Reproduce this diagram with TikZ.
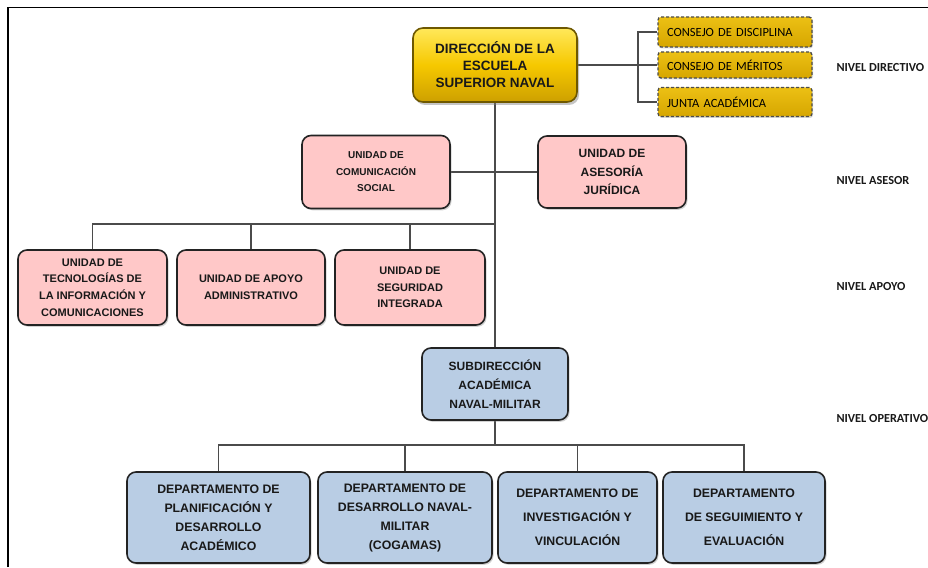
\documentclass[tikz,border=0pt]{standalone}
\usepackage{fontspec}
\setmainfont{Liberation Sans}
\newfontfamily\calfont{Carlito}
\usetikzlibrary{shadows,backgrounds}
\definecolor{pinkf}{RGB}{255,200,200}
\definecolor{bluef}{RGB}{185,205,228}
\definecolor{edgec}{RGB}{35,35,35}
\definecolor{connc}{RGB}{75,75,75}
\definecolor{goldA}{RGB}{255,232,90}
\definecolor{goldB}{RGB}{246,200,0}
\definecolor{goldC}{RGB}{205,160,0}
\definecolor{goldD}{RGB}{236,192,20}
\definecolor{goldE}{RGB}{214,166,0}
\definecolor{txt}{RGB}{25,25,25}
\tikzset{
  box/.style={draw=edgec, line width=1.6pt, rounded corners=9pt, align=center, text=txt,
    inner sep=2pt, drop shadow={shadow xshift=1.5pt, shadow yshift=-1.8pt, opacity=0.35}},
  pinkbox/.style={box, fill=pinkf},
  bluebox/.style={box, fill=bluef},
  dirbox/.style={draw={rgb,255:red,110;green,88;blue,0}, line width=1.6pt, rounded corners=10pt,
    top color=goldA, bottom color=goldC, middle color=goldB, align=center, text=txt,
    drop shadow={shadow xshift=2pt, shadow yshift=-3pt, opacity=0.45},
    minimum width=164pt, minimum height=74pt,
    font={\bfseries\fontsize{13.5}{17}\selectfont}},
  goldbox/.style={draw=black!70, dashed, dash pattern=on 3pt off 2pt, line width=1.3pt,
    rounded corners=3pt, top color=goldD, bottom color=goldE, text=black,
    minimum width=154pt, minimum height=28pt, text width=136pt, align=left,
    inner xsep=9pt, font={\calfont\fontsize{12.5}{14}\selectfont},
    drop shadow={shadow xshift=1pt, shadow yshift=-1.5pt, opacity=0.3}},
  cline/.style={draw=connc, line width=1.1pt},
  lvl/.style={anchor=west, text=txt, font={\calfont\bfseries\fontsize{12.3}{14}\selectfont}},
}
\begin{document}
\begin{tikzpicture}[x=1pt,y=-1pt]
\useasboundingbox (0,0) rectangle (928,567);

% directive level
\node[dirbox] (dir) at (495,65) {DIRECCIÓN DE LA\\ESCUELA\\SUPERIOR NAVAL};
\node[goldbox, minimum height=30pt] (cd) at (735,32) {CONSEJO DE DISCIPLINA};
\node[goldbox, minimum height=26pt] (cm) at (735,65) {CONSEJO DE MÉRITOS};
\node[goldbox, minimum height=29pt] (ja) at (735,102) {JUNTA ACADÉMICA};
\coordinate (br) at (638,65);

% advisory level
\node[pinkbox, minimum width=148pt, minimum height=73pt,
  font={\bfseries\fontsize{10}{16.5}\selectfont}] (com) at (376,172)
  {UNIDAD DE\\COMUNICACIÓN\\SOCIAL};
\node[pinkbox, minimum width=148pt, minimum height=72pt,
  font={\bfseries\fontsize{12}{18.5}\selectfont}] (jur) at (612,172)
  {UNIDAD DE\\ASESORÍA\\JURÍDICA};

% support level
\node[pinkbox, minimum width=149pt, minimum height=75pt,
  font={\bfseries\fontsize{11}{16.7}\selectfont}] (tic) at (92.5,287.5)
  {UNIDAD DE\\TECNOLOGÍAS DE\\LA INFORMACIÓN Y\\COMUNICACIONES};
\node[pinkbox, minimum width=148pt, minimum height=75pt,
  font={\bfseries\fontsize{11}{17}\selectfont}] (adm) at (251,287.5)
  {UNIDAD DE APOYO\\ADMINISTRATIVO};
\node[pinkbox, minimum width=150pt, minimum height=75pt,
  font={\bfseries\fontsize{11}{16.5}\selectfont}] (seg) at (410,287.5)
  {UNIDAD DE\\SEGURIDAD\\INTEGRADA};

% operative level
\node[bluebox, minimum width=146pt, minimum height=72pt,
  font={\bfseries\fontsize{12}{19}\selectfont}] (sub) at (495,384)
  {SUBDIRECCIÓN\\ACADÉMICA\\NAVAL-MILITAR};
\node[bluebox, minimum width=183pt, minimum height=91pt,
  font={\bfseries\fontsize{12.3}{19}\selectfont}] (d1) at (218.5,517.5)
  {DEPARTAMENTO DE\\PLANIFICACIÓN Y\\DESARROLLO\\ACADÉMICO};
\node[bluebox, minimum width=174pt, minimum height=91pt,
  font={\bfseries\fontsize{12.3}{19}\selectfont}] (d2) at (405,517.5)
  {DEPARTAMENTO DE\\DESARROLLO NAVAL-\\MILITAR\\(COGAMAS)};
\node[bluebox, minimum width=159pt, minimum height=91pt,
  font={\bfseries\fontsize{12.3}{24}\selectfont}] (d3) at (577.5,517.5)
  {DEPARTAMENTO DE\\INVESTIGACIÓN Y\\VINCULACIÓN};
\node[bluebox, minimum width=162pt, minimum height=91pt,
  font={\bfseries\fontsize{12.3}{24}\selectfont}] (d4) at (744,517.5)
  {DEPARTAMENTO\\DE SEGUIMIENTO Y\\EVALUACIÓN};

% level labels
\node[lvl] (l1) at (833,68) {NIVEL DIRECTIVO};
\node[lvl] (l2) at (833,181) {NIVEL ASESOR};
\node[lvl] (l3) at (833,287) {NIVEL APOYO};
\node[lvl] (l4) at (833,419) {NIVEL OPERATIVO};

\coordinate (ap) at (495,224);
\coordinate (op) at (495,445);

\begin{scope}[on background layer]
  \fill[white] (0,0) rectangle (928,567);
  \draw[line width=1.4pt, black] (8,567) -- (8,7.5) -- (928,7.5);
  \draw[cline] (dir.south) -- (sub.north);
  \draw[cline] (sub.south) -- (op);
  \draw[cline] (dir.east) -- (cm.west);
  \draw[cline] (cd.west) -| (br) |- (ja.west);
  \draw[cline] (com.east) -- (jur.west);
  \draw[cline] (tic.north) |- (ap);
  \draw[cline] (adm.north) -- (adm.north |- ap);
  \draw[cline] (seg.north) -- (seg.north |- ap);
  \draw[cline] (d1.north) |- (op);
  \draw[cline] (d2.north) -- (d2.north |- op);
  \draw[cline] (d3.north) -- (d3.north |- op);
  \draw[cline] (d4.north) |- (op);
\end{scope}
\end{tikzpicture}
\end{document}
